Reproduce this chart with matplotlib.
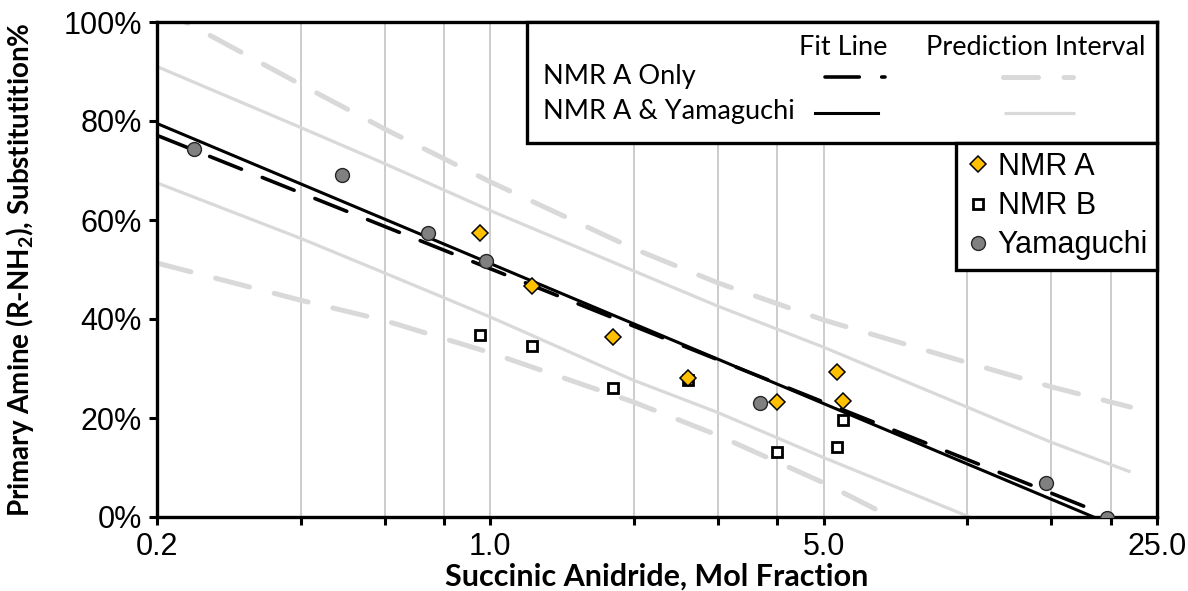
import matplotlib
matplotlib.use("Agg")
import matplotlib.pyplot as plt
from matplotlib.lines import Line2D
from matplotlib.patches import Rectangle
from matplotlib.ticker import FixedLocator, FormatStrFormatter, LogLocator, NullFormatter

# NMR A and NMR B were measured on the same set of samples
nmr_x = [0.95, 1.22, 1.81, 2.60, 3.99, 5.33, 5.50]
nmr_a = [57.4, 46.7, 36.4, 28.1, 23.2, 29.3, 23.4]
nmr_b = [36.8, 34.5, 26.1, 27.7, 13.1, 14.1, 19.6]

yam_x = [0.239, 0.489, 0.739, 0.98, 3.67, 14.6, 19.6]
yam_y = [74.3, 69.0, 57.4, 51.7, 23.1, 6.8, -0.3]

# log-linear fit lines, end points
fit_a_x = [0.2, 20.0]
fit_a_y = [77.1, 0.0]
fit_ay_x = [0.2, 18.4]
fit_ay_y = [79.5, 0.0]

# prediction interval bounds
pi_x = [0.2, 0.4, 0.6, 1.0, 2.0, 3.0, 5.0, 10.0, 15.0, 22.0]
pi_a_hi = [103.1, 87.4, 78.4, 67.7, 54.2, 47.3, 39.8, 31.2, 26.3, 22.2]
pi_a_lo = [51.3, 43.8, 39.7, 33.2, 23.2, 16.5, 6.9, -7.8, -16.6, -25.4]
pi_ay_hi = [91.0, 78.7, 71.4, 61.9, 49.7, 42.6, 34.3, 22.2, 15.1, 9.1]
pi_ay_lo = [67.5, 56.3, 49.3, 40.4, 27.6, 21.1, 12.0, 0.2, -8.0, -15.6]

x_ticks = [0.2, 1.0, 5.0, 25.0]
y_ticks = [0, 20, 40, 60, 80, 100]

LABEL_FONT = "Lato"
TICK_FONT = "Liberation Sans"
PI_GREY = "#D9D9D9"

plt.rcParams["mathtext.fontset"] = "custom"
plt.rcParams["mathtext.rm"] = "Lato:bold"
plt.rcParams["mathtext.bf"] = "Lato:bold"

fig = plt.figure(figsize=(11.88, 5.91), dpi=100)
ax = fig.add_axes([157 / 1188, 74 / 591, 1000 / 1188, 495 / 591])

dash_a = dict(color="black", lw=2.6, dashes=(9.5, 6.2), dash_capstyle="round")
dash_pi = dict(color=PI_GREY, lw=3.6, dashes=(7.0, 5.1), dash_capstyle="round")
solid_pi = dict(color=PI_GREY, lw=2.3, solid_capstyle="butt")
solid_ay = dict(color="black", lw=2.2)

ax.plot(pi_x, pi_a_hi, zorder=2, **dash_pi)
ax.plot(pi_x, pi_a_lo, zorder=2, **dash_pi)
ax.plot(pi_x, pi_ay_hi, zorder=2, **solid_pi)
ax.plot(pi_x, pi_ay_lo, zorder=2, **solid_pi)
ax.plot(fit_a_x, fit_a_y, zorder=3, **dash_a)
ax.plot(fit_ay_x, fit_ay_y, zorder=3, **solid_ay)

h_b, = ax.plot(nmr_x, nmr_b, ls="none", marker="s", ms=7, mfc="white",
               mec="black", mew=2.0, zorder=4)
h_a, = ax.plot(nmr_x, nmr_a, ls="none", marker="D", ms=8, mfc="#FFC000",
               mec="black", mew=1.1, zorder=4)
h_y, = ax.plot(yam_x, yam_y, ls="none", marker="o", ms=10, mfc="#808080",
               mec="#262626", mew=1.0, zorder=4)

ax.set_xscale("log", base=5)
ax.set_xlim(0.2, 25)
ax.set_ylim(0, 100)
ax.xaxis.set_major_locator(FixedLocator(x_ticks))
ax.xaxis.set_major_formatter(FormatStrFormatter("%.1f"))
ax.xaxis.set_minor_locator(LogLocator(base=5, subs=(2, 3, 4)))
ax.xaxis.set_minor_formatter(NullFormatter())
ax.yaxis.set_major_locator(FixedLocator(y_ticks))
ax.yaxis.set_major_formatter(FormatStrFormatter("%d%%"))

ax.grid(True, which="both", axis="x", color="#BFBFBF", lw=1.1, zorder=0)
ax.set_axisbelow(True)
for spine in ax.spines.values():
    spine.set_linewidth(2.4)
ax.tick_params(which="both", direction="out", length=6, width=2.2, top=False, right=False)
ax.tick_params(which="major", labelsize=22, pad=5)
for lab in ax.get_xticklabels() + ax.get_yticklabels():
    lab.set_fontfamily(TICK_FONT)

ax.set_xlabel("Succinic Anidride, Mol Fraction", fontfamily=LABEL_FONT,
              fontweight="bold", fontsize=22, va="center")
ax.xaxis.set_label_coords(0.5, -0.121)
ax.set_ylabel(r"Primary Amine (R-NH$_{2}$), Substitutition%", fontfamily=LABEL_FONT,
              fontweight="bold", fontsize=20, va="center")
ax.yaxis.set_label_coords(-0.137, 0.5)

# fit / prediction interval key in the top box
ax.add_patch(Rectangle((0.370, 0.7556), 0.630, 0.2444, transform=ax.transAxes,
                       facecolor="white", edgecolor="black", lw=2.4, zorder=6,
                       clip_on=False))
key_txt = dict(transform=ax.transAxes, fontfamily=LABEL_FONT, fontsize=19.5,
               va="center", zorder=7)
ax.text(0.686, 0.949, "Fit Line", ha="center", **key_txt)
ax.text(0.879, 0.949, "Prediction Interval", ha="center", **key_txt)
ax.text(0.386, 0.889, "NMR A Only", ha="left", **key_txt)
ax.text(0.386, 0.820, "NMR A & Yamaguchi", ha="left", **key_txt)
key_line = dict(transform=ax.transAxes, zorder=7, clip_on=False)
ax.add_line(Line2D([0.668, 0.728], [0.889, 0.889], **key_line, **dash_a))
ax.add_line(Line2D([0.658, 0.721], [0.816, 0.816], **key_line, **solid_ay))
ax.add_line(Line2D([0.846, 0.916], [0.889, 0.889], **key_line, **dash_pi))
ax.add_line(Line2D([0.847, 0.918], [0.816, 0.816], **key_line, **solid_pi))

# marker key sits just below the fit key
leg = ax.legend([h_a, h_b, h_y], ["NMR A", "NMR B", "Yamaguchi"],
                loc="upper right", bbox_to_anchor=(1.0, 0.7556), borderaxespad=0,
                fancybox=False, edgecolor="black", framealpha=1,
                prop={"family": TICK_FONT, "size": 22},
                handlelength=0.8, handletextpad=0.25, labelspacing=0.3,
                borderpad=0.3)
leg.get_frame().set_linewidth(2.4)
leg.set_zorder(8)

fig.savefig("out.png", dpi=100)
